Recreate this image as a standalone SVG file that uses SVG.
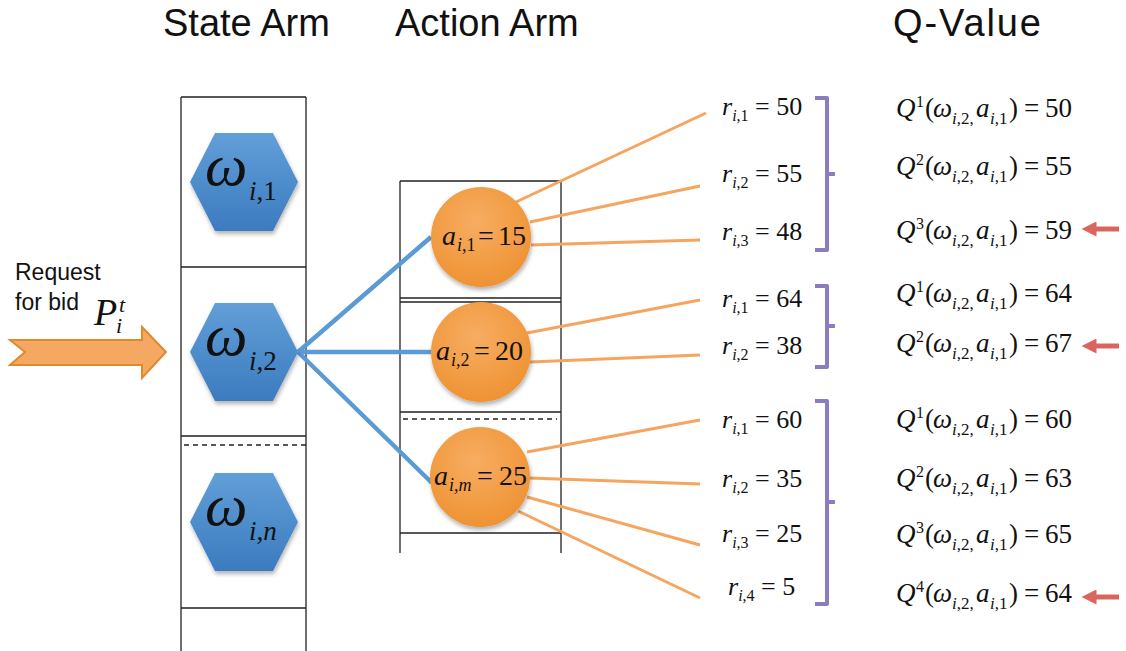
<svg xmlns="http://www.w3.org/2000/svg" width="1126" height="651" viewBox="0 0 1126 651">
  <defs>
    <linearGradient id="hexFill" x1="0" y1="0" x2="0" y2="1">
      <stop offset="0" stop-color="#629fd8"/>
      <stop offset="1" stop-color="#3b7bbf"/>
    </linearGradient>
    <radialGradient id="ballFill" cx="0.45" cy="0.35" r="0.7">
      <stop offset="0" stop-color="#f7ad62"/>
      <stop offset="1" stop-color="#ee9130"/>
    </radialGradient>
    <filter id="shadow" x="-20%" y="-20%" width="140%" height="150%">
      <feDropShadow dx="1" dy="3" stdDeviation="2" flood-color="#000" flood-opacity="0.3"/>
    </filter>
    <marker id="redHead" viewBox="0 0 10 10" refX="1" refY="5" markerWidth="3" markerHeight="3" orient="auto-start-reverse">
      <path d="M0,0 L10,5 L0,10 z" fill="#d8665f"/>
    </marker>
  </defs>
  <style>
    .title { font-family: "Liberation Sans", Arial, sans-serif; font-size: 38px; fill: #111; }
    .label { font-family: "Liberation Sans", Arial, sans-serif; font-size: 23px; fill: #111; }
    .math { font-family: "Liberation Serif", "Times New Roman", serif; fill: #111; }
    .it { font-style: italic; }
    .grid { stroke: #222; stroke-width: 1.3; fill: none; }
    .dash { stroke: #222; stroke-width: 1.3; stroke-dasharray: 5 4; fill: none; }
    .hex { fill: url(#hexFill); filter: url(#shadow); }
    .ball { fill: url(#ballFill); filter: url(#shadow); }
    .blue { stroke: #5b9bd5; stroke-width: 4.5; fill: none; }
    .orange { stroke: #f5a55f; stroke-width: 3; fill: none; }
    .brace { stroke: #8b7cc0; stroke-width: 4; fill: none; stroke-linejoin: round; }
    .pick { stroke: #d8665f; stroke-width: 5; fill: none; }
    .sym { font-size: 60px; font-style: italic; }
    .idx { font-size: 27px; }
    .sm { font-size: 18px; }
    .sup { font-size: 16px; }
    .q { font-size: 27px; }
    .qs { font-size: 17px; }
  </style>

  <!-- headings -->
  <text class="title" x="163" y="36">State Arm</text>
  <text class="title" x="395" y="36">Action Arm</text>
  <text class="title" x="893" y="36" textLength="148" lengthAdjust="spacing">Q-Value</text>

  <!-- state arm column -->
  <g id="state-column">
    <path class="grid" d="M181,97 V651 M306,97 V651 M181,97 H306 M181,267 H306 M181,436 H306 M181,608 H306"/>
    <path class="dash" d="M184,445 H306"/>
  </g>

  <!-- action arm column -->
  <g id="action-column">
    <path class="grid" d="M400,181 V553 M561,181 V553 M400,181 H561 M400,298 H561 M400,302 H561 M400,412 H561 M400,533 H561"/>
    <path class="dash" d="M403,419 H557"/>
  </g>

  <!-- request for bid -->
  <g id="request">
    <path d="M10,340 H142 V327 L166,352 L142,378 V365 H10 L25,352 Z" fill="#f4a862" stroke="#e0892f" stroke-width="2"/>
    <text class="label" x="15" y="280">Request</text>
    <text class="label" x="15" y="310">for bid</text>
    <text class="math it" font-size="38"><tspan x="94" y="325">P</tspan><tspan x="119" y="312" font-size="22">t</tspan><tspan x="116" y="333" font-size="22">i</tspan></text>
  </g>

  <!-- connectors -->
  <g id="connectors">
    <path class="blue" d="M298,352 L431,237 M298,352 L431,352 M298,352 L432,483"/>
    <path class="orange" d="M516,202 L706,113 M530,222 L700,186 M531,245 L700,240"/>
    <path class="orange" d="M527,333 L700,300 M530,362 L700,355"/>
    <path class="orange" d="M527,452 L700,420 M529,478 L700,484 M527,497 L700,545 M518,511 L700,598"/>
  </g>

  <!-- state nodes -->
  <g id="state-1">
    <polygon class="hex" points="190,182 215,133 273,133 298,182 273,231 215,231"/>
    <text class="math"><tspan class="sym" x="205" y="185">ω</tspan><tspan class="idx" x="249" y="200"><tspan class="it">i</tspan>,1</tspan></text>
  </g>
  <g id="state-2">
    <polygon class="hex" points="190,352 215,303 273,303 298,352 273,401 215,401"/>
    <text class="math"><tspan class="sym" x="205" y="355">ω</tspan><tspan class="idx" x="249" y="370"><tspan class="it">i</tspan>,2</tspan></text>
  </g>
  <g id="state-n">
    <polygon class="hex" points="190,522 215,473 273,473 298,522 273,571 215,571"/>
    <text class="math"><tspan class="sym" x="205" y="525">ω</tspan><tspan class="idx it" x="249" y="540">i,n</tspan></text>
  </g>

  <!-- action nodes -->
  <g id="action-1">
    <circle class="ball" cx="481" cy="237" r="50"/>
    <text class="math" font-size="28"><tspan class="it" x="442" y="245">a</tspan><tspan class="sm" x="457" y="251"><tspan class="it">i</tspan>,1</tspan><tspan x="478" y="245">=</tspan><tspan x="498" y="245">15</tspan></text>
  </g>
  <g id="action-2">
    <circle class="ball" cx="481" cy="352" r="50"/>
    <text class="math" font-size="28"><tspan class="it" x="436" y="360">a</tspan><tspan class="sm" x="451" y="366"><tspan class="it">i</tspan>,2</tspan><tspan x="474" y="360">=</tspan><tspan x="495" y="360">20</tspan></text>
  </g>
  <g id="action-m">
    <circle class="ball" cx="480" cy="477" r="50"/>
    <text class="math" font-size="28"><tspan class="it" x="434" y="485">a</tspan><tspan class="sm it" x="449" y="491">i,m</tspan><tspan x="477" y="485">=</tspan><tspan x="499" y="485">25</tspan></text>
  </g>

  <!-- rewards -->
  <g id="rewards" class="math" font-size="26">
    <text x="722" y="115"><tspan class="it">r</tspan><tspan font-size="16" dy="6"><tspan class="it">i</tspan>,1</tspan><tspan dy="-6"> = 50</tspan></text>
    <text x="722" y="182"><tspan class="it">r</tspan><tspan font-size="16" dy="6"><tspan class="it">i</tspan>,2</tspan><tspan dy="-6"> = 55</tspan></text>
    <text x="722" y="240"><tspan class="it">r</tspan><tspan font-size="16" dy="6"><tspan class="it">i</tspan>,3</tspan><tspan dy="-6"> = 48</tspan></text>
    <text x="722" y="307"><tspan class="it">r</tspan><tspan font-size="16" dy="6"><tspan class="it">i</tspan>,1</tspan><tspan dy="-6"> = 64</tspan></text>
    <text x="722" y="354"><tspan class="it">r</tspan><tspan font-size="16" dy="6"><tspan class="it">i</tspan>,2</tspan><tspan dy="-6"> = 38</tspan></text>
    <text x="722" y="428"><tspan class="it">r</tspan><tspan font-size="16" dy="6"><tspan class="it">i</tspan>,1</tspan><tspan dy="-6"> = 60</tspan></text>
    <text x="722" y="487"><tspan class="it">r</tspan><tspan font-size="16" dy="6"><tspan class="it">i</tspan>,2</tspan><tspan dy="-6"> = 35</tspan></text>
    <text x="722" y="542"><tspan class="it">r</tspan><tspan font-size="16" dy="6"><tspan class="it">i</tspan>,3</tspan><tspan dy="-6"> = 25</tspan></text>
    <text x="728" y="595"><tspan class="it">r</tspan><tspan font-size="16" dy="6"><tspan class="it">i</tspan>,4</tspan><tspan dy="-6"> = 5</tspan></text>
  </g>

  <!-- braces -->
  <g id="braces">
    <path class="brace" d="M815,98 H827 V250 H815 M827,174 H835"/>
    <path class="brace" d="M815,286 H827 V367 H815 M827,326 H835"/>
    <path class="brace" d="M815,401 H827 V604 H815 M827,502 H835"/>
  </g>

  <!-- Q-values: Q^k(ω_{i,2}, a_{i,1}) = v -->
  <g id="qvalues" class="math q">
    <text><tspan class="it" x="896" y="117">Q</tspan><tspan class="sup" x="916" y="107">1</tspan><tspan x="925" y="117">(</tspan><tspan class="it" x="933" y="117">ω</tspan><tspan class="qs" x="952" y="124"><tspan class="it">i</tspan>,2,</tspan><tspan class="it" x="976" y="117">a</tspan><tspan class="qs" x="990" y="124"><tspan class="it">i</tspan>,1</tspan><tspan x="1009" y="117">)</tspan><tspan x="1024" y="117">=</tspan><tspan x="1045" y="117">50</tspan></text>
    <text><tspan class="it" x="896" y="175">Q</tspan><tspan class="sup" x="916" y="165">2</tspan><tspan x="925" y="175">(</tspan><tspan class="it" x="933" y="175">ω</tspan><tspan class="qs" x="952" y="182"><tspan class="it">i</tspan>,2,</tspan><tspan class="it" x="976" y="175">a</tspan><tspan class="qs" x="990" y="182"><tspan class="it">i</tspan>,1</tspan><tspan x="1009" y="175">)</tspan><tspan x="1024" y="175">=</tspan><tspan x="1045" y="175">55</tspan></text>
    <text><tspan class="it" x="896" y="239">Q</tspan><tspan class="sup" x="916" y="229">3</tspan><tspan x="925" y="239">(</tspan><tspan class="it" x="933" y="239">ω</tspan><tspan class="qs" x="952" y="246"><tspan class="it">i</tspan>,2,</tspan><tspan class="it" x="976" y="239">a</tspan><tspan class="qs" x="990" y="246"><tspan class="it">i</tspan>,1</tspan><tspan x="1009" y="239">)</tspan><tspan x="1024" y="239">=</tspan><tspan x="1045" y="239">59</tspan></text>
    <text><tspan class="it" x="896" y="302">Q</tspan><tspan class="sup" x="916" y="292">1</tspan><tspan x="925" y="302">(</tspan><tspan class="it" x="933" y="302">ω</tspan><tspan class="qs" x="952" y="309"><tspan class="it">i</tspan>,2,</tspan><tspan class="it" x="976" y="302">a</tspan><tspan class="qs" x="990" y="309"><tspan class="it">i</tspan>,1</tspan><tspan x="1009" y="302">)</tspan><tspan x="1024" y="302">=</tspan><tspan x="1045" y="302">64</tspan></text>
    <text><tspan class="it" x="896" y="352">Q</tspan><tspan class="sup" x="916" y="342">2</tspan><tspan x="925" y="352">(</tspan><tspan class="it" x="933" y="352">ω</tspan><tspan class="qs" x="952" y="359"><tspan class="it">i</tspan>,2,</tspan><tspan class="it" x="976" y="352">a</tspan><tspan class="qs" x="990" y="359"><tspan class="it">i</tspan>,1</tspan><tspan x="1009" y="352">)</tspan><tspan x="1024" y="352">=</tspan><tspan x="1045" y="352">67</tspan></text>
    <text><tspan class="it" x="896" y="428">Q</tspan><tspan class="sup" x="916" y="418">1</tspan><tspan x="925" y="428">(</tspan><tspan class="it" x="933" y="428">ω</tspan><tspan class="qs" x="952" y="435"><tspan class="it">i</tspan>,2,</tspan><tspan class="it" x="976" y="428">a</tspan><tspan class="qs" x="990" y="435"><tspan class="it">i</tspan>,1</tspan><tspan x="1009" y="428">)</tspan><tspan x="1024" y="428">=</tspan><tspan x="1045" y="428">60</tspan></text>
    <text><tspan class="it" x="896" y="487">Q</tspan><tspan class="sup" x="916" y="477">2</tspan><tspan x="925" y="487">(</tspan><tspan class="it" x="933" y="487">ω</tspan><tspan class="qs" x="952" y="494"><tspan class="it">i</tspan>,2,</tspan><tspan class="it" x="976" y="487">a</tspan><tspan class="qs" x="990" y="494"><tspan class="it">i</tspan>,1</tspan><tspan x="1009" y="487">)</tspan><tspan x="1024" y="487">=</tspan><tspan x="1045" y="487">63</tspan></text>
    <text><tspan class="it" x="896" y="543">Q</tspan><tspan class="sup" x="916" y="533">3</tspan><tspan x="925" y="543">(</tspan><tspan class="it" x="933" y="543">ω</tspan><tspan class="qs" x="952" y="550"><tspan class="it">i</tspan>,2,</tspan><tspan class="it" x="976" y="543">a</tspan><tspan class="qs" x="990" y="550"><tspan class="it">i</tspan>,1</tspan><tspan x="1009" y="543">)</tspan><tspan x="1024" y="543">=</tspan><tspan x="1045" y="543">65</tspan></text>
    <text><tspan class="it" x="896" y="602">Q</tspan><tspan class="sup" x="916" y="592">4</tspan><tspan x="925" y="602">(</tspan><tspan class="it" x="933" y="602">ω</tspan><tspan class="qs" x="952" y="609"><tspan class="it">i</tspan>,2,</tspan><tspan class="it" x="976" y="602">a</tspan><tspan class="qs" x="990" y="609"><tspan class="it">i</tspan>,1</tspan><tspan x="1009" y="602">)</tspan><tspan x="1024" y="602">=</tspan><tspan x="1045" y="602">64</tspan></text>
  </g>

  <!-- best choice markers -->
  <g id="picks">
    <path class="pick" d="M1119,229 H1095" marker-end="url(#redHead)"/>
    <path class="pick" d="M1119,346 H1095" marker-end="url(#redHead)"/>
    <path class="pick" d="M1119,597 H1095" marker-end="url(#redHead)"/>
  </g>
</svg>
